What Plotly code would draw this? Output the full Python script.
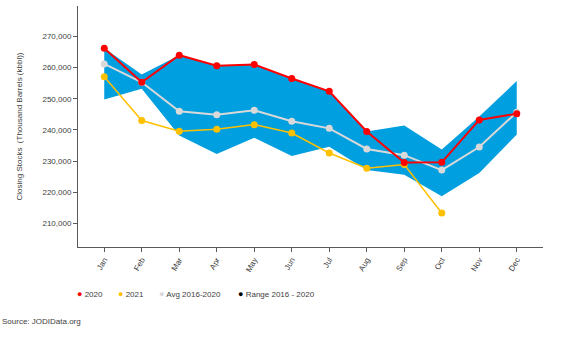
import plotly.graph_objects as go

months = ["Jan", "Feb", "Mar", "Apr", "May", "Jun", "Jul", "Aug", "Sep", "Oct", "Nov", "Dec"]
y2020 = [266200, 255300, 264000, 260600, 261000, 256500, 252400, 239500, 229500, 229600, 243200, 245200]
y2021 = [257100, 243000, 239600, 240200, 241700, 239000, 232600, 227700, 228900, 213300]
avg = [261200, 255300, 246000, 244900, 246300, 242800, 240500, 233900, 231900, 227100, 234500, 245700]
range_hi = [266200, 257800, 264000, 260600, 261000, 256500, 252400, 239500, 241400, 233700, 244300, 255700]
range_lo = [249800, 253200, 238200, 232300, 237500, 231600, 234600, 227100, 225600, 218700, 226200, 238500]

x = list(range(len(months)))
FONT = "Liberation Sans"
BLUE = "#009FE0"
RED = "#FF0000"
GOLD = "#FFC000"
GREY = "#D9D9D9"

fig = go.Figure()
fig.add_trace(go.Scatter(x=x, y=range_lo, mode="lines", line=dict(width=0, color=BLUE),
                         showlegend=False, hoverinfo="skip"))
fig.add_trace(go.Scatter(x=x, y=range_hi, mode="lines", line=dict(width=0, color=BLUE),
                         fill="tonexty", fillcolor=BLUE, name="Range 2016 - 2020", showlegend=False))
fig.add_trace(go.Scatter(x=x, y=avg, mode="lines+markers", name="Avg 2016-2020",
                         line=dict(color=GREY, width=2), marker=dict(size=7, color=GREY), showlegend=False))
fig.add_trace(go.Scatter(x=x[:len(y2021)], y=y2021, mode="lines+markers", name="2021",
                         line=dict(color=GOLD, width=1.5), marker=dict(size=7, color=GOLD), showlegend=False))
fig.add_trace(go.Scatter(x=x, y=y2020, mode="lines+markers", name="2020",
                         line=dict(color=RED, width=2), marker=dict(size=7, color=RED), showlegend=False))

# legend drawn as annotations
legend_items = [("2020", RED, 75), ("2021", GOLD, 116), ("Avg 2016-2020", GREY, 157), ("Range 2016 - 2020", "#000000", 236)]
for label, col, px in legend_items:
    fig.add_annotation(
        xref="paper", yref="paper", x=(px - 78) / 465, y=(247 - 294) / 241,
        xanchor="left", yanchor="middle", showarrow=False,
        text=f'<span style="color:{col};font-size:9px">●</span> {label}',
        font=dict(family=FONT, size=8, color="#404040"),
    )

fig.add_annotation(xref="paper", yref="paper", x=-78 / 465, y=(247 - 321) / 241,
                   xanchor="left", yanchor="middle", showarrow=False,
                   text="Source: JODIData.org", font=dict(family=FONT, size=8, color="#404040"))

fig.update_layout(
    width=582, height=342,
    margin=dict(l=78, r=39, t=6, b=95),
    paper_bgcolor="white", plot_bgcolor="white",
    font=dict(family=FONT, size=8, color="#404040"),
    showlegend=False,
    xaxis=dict(
        range=[-0.7, 11.7], tickmode="array", tickvals=x, ticktext=months,
        tickangle=-60, showgrid=False, zeroline=False, showline=True,
        linecolor="#595959", linewidth=1, ticks="outside", ticklen=4, tickcolor="#595959",
        tickfont=dict(family=FONT, size=8, color="#404040"),
    ),
    yaxis=dict(
        range=[202400, 279800], tickmode="array",
        tickvals=[210000, 220000, 230000, 240000, 250000, 260000, 270000],
        tickformat=",d", showgrid=False, zeroline=False, showline=True,
        linecolor="#595959", linewidth=1, ticks="outside", ticklen=4, tickcolor="#595959",
        tickfont=dict(family=FONT, size=8, color="#404040"),
        title=dict(text="Closing Stocks  (Thousand Barrels (kbbl))", standoff=18,
                   font=dict(family=FONT, size=8, color="#404040")),
    ),
)

fig.write_html("out.html")
